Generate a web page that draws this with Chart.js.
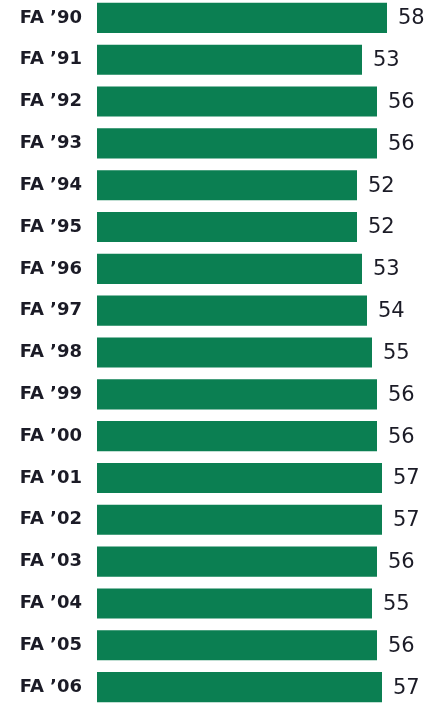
<!DOCTYPE html>
<html>
<head>
<meta charset="utf-8">
<script src="https://cdn.jsdelivr.net/npm/chart.js@4.4.1/dist/chart.umd.min.js"></script>
<style>
    html, body { margin: 0; padding: 0; background: #fff; overflow: hidden; }
    #wrap { position: relative; width: 438px; height: 711px; margin-top: -3px; }
</style>
</head>
<body>
<div id="wrap"><canvas id="barChart"></canvas></div>
<script>
// 财年标签
const years = ['\u201990', '\u201991', '\u201992', '\u201993', '\u201994', '\u201995', '\u201996', '\u201997',
    '\u201998', '\u201999', '\u201900', '\u201901', '\u201902', '\u201903', '\u201904', '\u201905', '\u201906'];
const labels = years.map(y => 'FA ' + y);

// 每年的数值
const values = [58, 53, 56, 56, 52, 52, 53, 54, 55, 56, 56, 57, 57, 56, 55, 56, 57];

const BAR_COLOR = '#0b7f52';
const TEXT_COLOR = '#1b1b26';

// 在柱子右侧画数值
const valueLabels = {
    id: 'valueLabels',
    afterDatasetsDraw(chart) {
        const ctx = chart.ctx;
        const meta = chart.getDatasetMeta(0);
        ctx.save();
        ctx.font = '21px "DejaVu Sans"';
        ctx.fillStyle = TEXT_COLOR;
        ctx.textAlign = 'left';
        ctx.textBaseline = 'middle';
        meta.data.forEach((bar, i) => {
            ctx.fillText(values[i], bar.x + 11, bar.y + 1);
        });
        ctx.restore();
    }
};

const config = {
    type: 'bar',
    data: {
        labels: labels,
        datasets: [{
            data: values,
            backgroundColor: BAR_COLOR,
            borderWidth: 0,
            barPercentage: 0.8,
            categoryPercentage: 0.9
        }]
    },
    options: {
        indexAxis: 'y',
        responsive: true,
        maintainAspectRatio: false,
        animation: false,
        layout: { padding: 0 },
        plugins: {
            legend: { display: false },
            tooltip: { enabled: false }
        },
        scales: {
            x: {
                display: false,
                min: 0,
                max: 68.2
            },
            y: {
                afterFit: function (scale) {
                    scale.width = 97;
                    scale.paddingTop = 0;
                    scale.paddingBottom = 0;
                },
                grid: { display: false, drawTicks: false },
                border: { display: false },
                ticks: {
                    color: TEXT_COLOR,
                    padding: 15,
                    font: { family: 'DejaVu Sans', weight: 'bold', size: 18 }
                }
            }
        }
    },
    plugins: [valueLabels]
};

new Chart(document.getElementById('barChart'), config);
</script>
</body>
</html>
